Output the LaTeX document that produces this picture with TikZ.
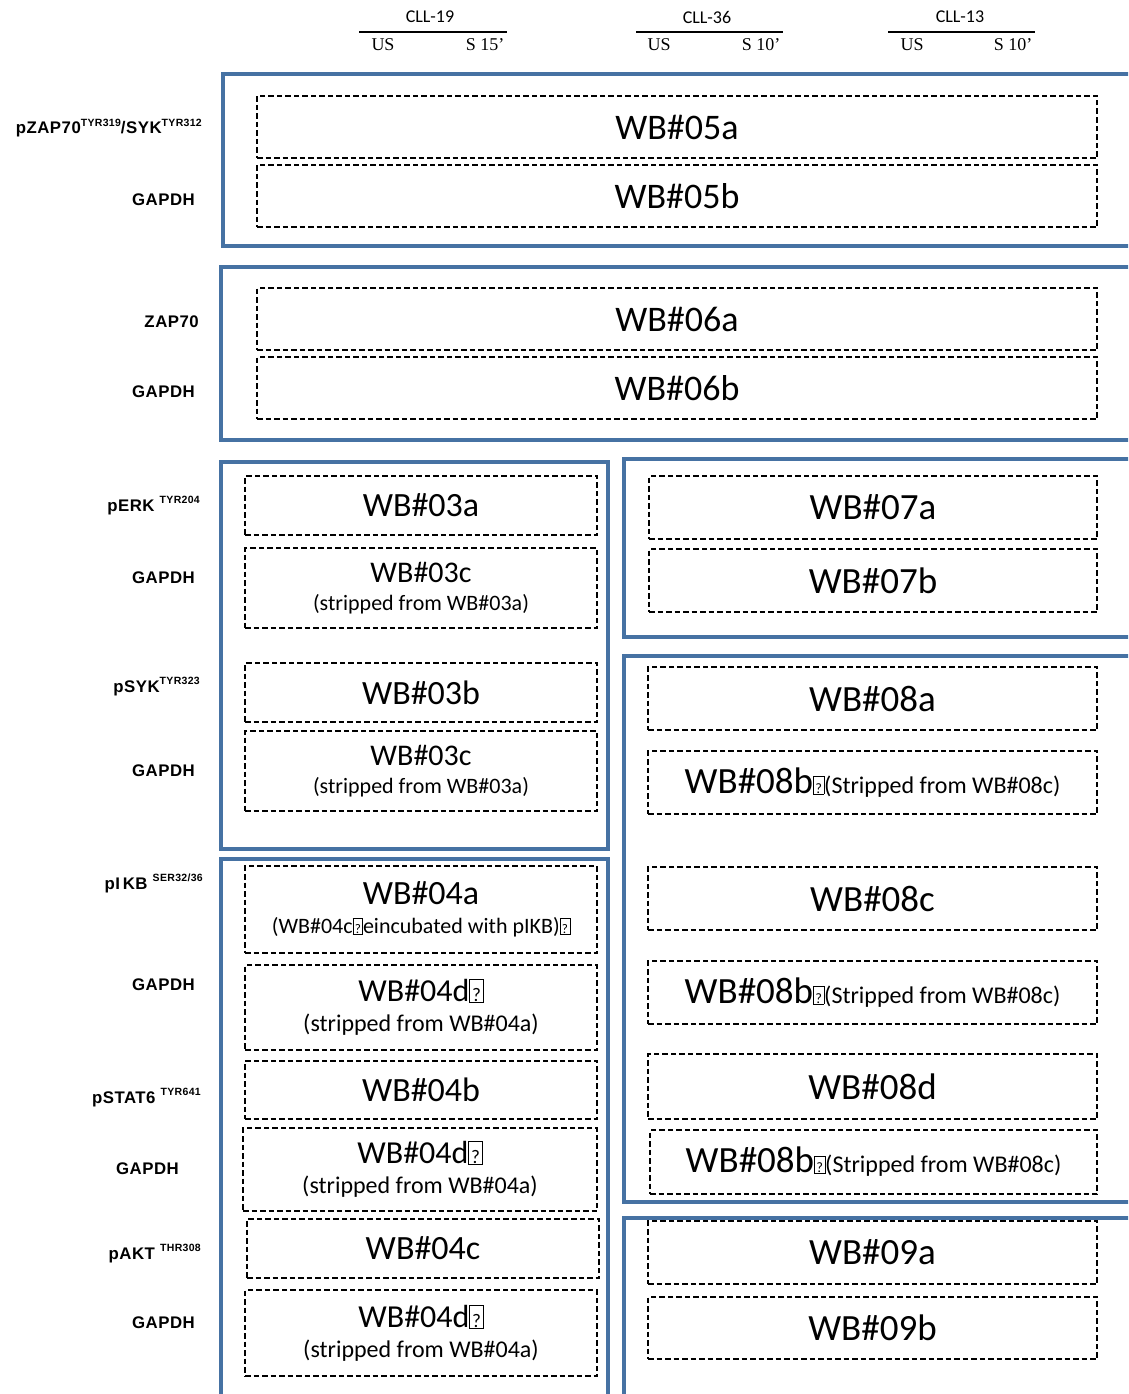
\documentclass[tikz,border=0pt]{standalone}
\usepackage{fontspec}
\usepackage{graphicx}
\setmainfont{Carlito}
\newfontfamily\labfont[LetterSpace=3]{Liberation Sans}
\newfontfamily\serf{Liberation Serif}
\definecolor{frameblue}{RGB}{70,114,163}
\newcommand\tofu{{\setlength\fboxsep{0.4pt}\setlength\fboxrule{0.6pt}\fbox{\makebox[0.38em]{\rule{0pt}{0.68em}\scalebox{0.6}{?}}}}}
\newcommand\sups[1]{\raisebox{0.42em}{\fontsize{10.5}{11}\selectfont #1}}
\begin{document}
\begin{tikzpicture}[x=1pt,y=-1pt,
  frame/.style={draw=frameblue,line width=4pt},
  wb/.style={draw=black,line width=1.7pt,dash pattern=on 5.5pt off 3pt,inner sep=0pt,align=center,minimum height=62pt},
  full/.style={wb,minimum width=840pt,font=\fontsize{36}{40}\selectfont},
  lone/.style={wb,minimum width=352pt,font=\fontsize{34}{38}\selectfont},
  rone/.style={wb,minimum width=449pt,minimum height=63pt,font=\fontsize{37}{40}\selectfont},
  lab/.style={anchor=base east,inner sep=0pt,font=\labfont\bfseries\fontsize{16.8}{19}\selectfont},
  hdr/.style={inner sep=0pt,font=\fontsize{18}{20}\selectfont},
  cond/.style={inner sep=0pt,font=\serf\fontsize{18}{20}\selectfont},
  hline/.style={line width=1.5pt}]
\useasboundingbox (0,0) rectangle (1128,1394);
\clip (0,0) rectangle (1128,1394);
\fill[white] (0,0) rectangle (1128,1394);

% header
\node[hdr] (cll19) at (430,17) {CLL-19};
\coordinate (l19a) at (359,32); \coordinate (l19b) at (507,32);
\draw[hline] (l19a) -- (l19b);
\node[cond] (us19) at (383,45) {US};
\node[cond] (s19) at (485,45) {S 15’};

\node[hdr] (cll36) at (707,17) {CLL-36};
\coordinate (l36a) at (636,32); \coordinate (l36b) at (783,32);
\draw[hline] (l36a) -- (l36b);
\node[cond] (us36) at (659,45) {US};
\node[cond] (s36) at (761,45) {S 10’};

\node[hdr] (cll13) at (960,17) {CLL-13};
\coordinate (l13a) at (888,32); \coordinate (l13b) at (1035,32);
\draw[hline] (l13a) -- (l13b);
\node[cond] (us13) at (912,45) {US};
\node[cond] (s13) at (1013,45) {S 10’};

% blue frames
\draw[frame] (223,74) rectangle (1150,246);
\draw[frame] (221,267) rectangle (1150,440);
\draw[frame] (221,462) rectangle (608,849);
\draw[frame] (624,459) rectangle (1150,637);
\draw[frame] (221,859) rectangle (608,1420);
\draw[frame] (624,656) rectangle (1150,1202);
\draw[frame] (624,1218) rectangle (1150,1420);

% full width blots
\node[full] (b05a) at (677,127) {WB\#05a};
\node[full] (b05b) at (677,196) {WB\#05b};
\node[full] (b06a) at (677,319) {WB\#06a};
\node[full] (b06b) at (677,388) {WB\#06b};

% left column
\node[lone,minimum height=59pt] (b03a) at (421,505.5) {WB\#03a};
\node[wb,minimum width=352pt,minimum height=80pt,font=\fontsize{22}{28}\selectfont] (b03c1) at (421,588)
  {{\fontsize{30}{28}\selectfont WB\#03c}\\(stripped from WB\#03a)};
\node[lone,minimum height=59pt] (b03b) at (421,692.5) {WB\#03b};
\node[wb,minimum width=352pt,minimum height=80pt,font=\fontsize{22}{28}\selectfont] (b03c2) at (421,771)
  {{\fontsize{30}{28}\selectfont WB\#03c}\\(stripped from WB\#03a)};

\node[wb,minimum width=352pt,minimum height=87pt,font=\fontsize{22}{31}\selectfont] (b04a) at (421,909.5)
  {{\fontsize{34}{31}\selectfont\rule{0pt}{0pt}\raisebox{-3pt}{WB\#04a}}\\[1pt](WB\#04c\tofu eincubated with pIKB)\tofu};
\node[wb,minimum width=352pt,minimum height=85pt,font=\fontsize{24}{30}\selectfont] (b04d1) at (421,1007.5)
  {{\fontsize{32}{30}\selectfont WB\#04d\tofu}\\(stripped from WB\#04a)};
\node[lone,minimum height=58pt] (b04b) at (421,1090) {WB\#04b};
\node[wb,minimum width=354pt,minimum height=83pt,font=\fontsize{24}{30}\selectfont] (b04d2) at (420,1169.5)
  {{\fontsize{32}{30}\selectfont WB\#04d\tofu}\\(stripped from WB\#04a)};
\node[lone,minimum height=59pt] (b04c) at (423,1248.5) {WB\#04c};
\node[wb,minimum width=352pt,minimum height=86pt,font=\fontsize{24}{30}\selectfont] (b04d3) at (421,1333)
  {{\fontsize{32}{30}\selectfont WB\#04d\tofu}\\(stripped from WB\#04a)};

% right column
\node[rone,minimum width=448pt] (b07a) at (873,507.5) {WB\#07a};
\node[rone,minimum width=448pt] (b07b) at (873,580.5) {WB\#07b};
\node[rone] (b08a) at (872.5,698.5) {WB\#08a};
\node[rone] (b08b1) at (872.5,782.5) {WB\#08b{\fontsize{24}{30}\selectfont\tofu(Stripped from WB\#08c)}};
\node[rone] (b08c) at (872.5,898.5) {WB\#08c};
\node[rone] (b08b2) at (872.5,992.5) {WB\#08b{\fontsize{24}{30}\selectfont\tofu(Stripped from WB\#08c)}};
\node[rone,minimum height=65pt] (b08d) at (872.5,1086.5) {WB\#08d};
\node[rone,minimum width=447pt,minimum height=64pt] (b08b3) at (873.5,1162) {WB\#08b{\fontsize{24}{30}\selectfont\tofu(Stripped from WB\#08c)}};
\node[rone] (b09a) at (872.5,1252.5) {WB\#09a};
\node[rone,minimum height=62pt] (b09b) at (872.5,1328) {WB\#09b};

% row labels
\node[lab] (lzap) at (202,134) {pZAP70\sups{TYR319}/SYK\sups{TYR312}};
\node[lab] (lg1) at (195,205) {GAPDH};
\node[lab] (lzap70) at (199,327) {ZAP70};
\node[lab] (lg2) at (195,397) {GAPDH};
\node[lab] (lerk) at (200,511) {pERK \sups{TYR204}};
\node[lab] (lg3) at (195,583) {GAPDH};
\node[lab] (lsyk) at (200,692) {pSYK\sups{TYR323}};
\node[lab] (lg4) at (195,776) {GAPDH};
\node[lab] (likb) at (203,889) {pI\,KB \sups{SER32/36}};
\node[lab] (lg5) at (195,990) {GAPDH};
\node[lab] (lstat) at (201,1103) {pSTAT6 \sups{TYR641}};
\node[lab] (lg6) at (179,1174) {GAPDH};
\node[lab] (lakt) at (201,1259) {pAKT \sups{THR308}};
\node[lab] (lg7) at (195,1328) {GAPDH};
\end{tikzpicture}
\end{document}
